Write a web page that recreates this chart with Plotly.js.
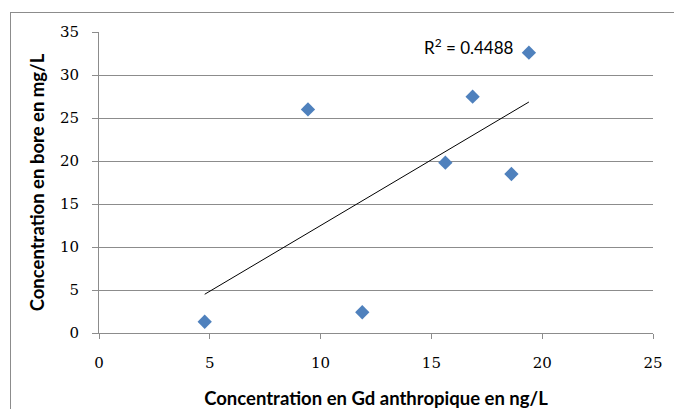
<!DOCTYPE html>
<html><head><meta charset="utf-8">
<script src="https://cdn.plot.ly/plotly-3.0.1.min.js"></script>
<style>
body{margin:0;background:#fff;}
#wrap{position:relative;width:674px;height:409px;overflow:hidden;}
#chart{width:674px;height:409px;}
#frame{position:absolute;left:10px;top:12px;width:700px;height:440px;border-left:1px solid #8c8c8c;border-top:1px solid #8c8c8c;pointer-events:none;}
</style></head>
<body><div id="wrap"><div id="chart"></div><div id="frame"></div></div>
<script>
const gdAnthropique = [4.77, 9.43, 11.88, 15.63, 16.86, 18.61, 19.40];
const bore = [1.31, 26.0, 2.41, 19.8, 27.48, 18.49, 32.6];
const xTickVals = [0, 5, 10, 15, 20, 25];
const yTickVals = [0, 5, 10, 15, 20, 25, 30, 35];
const xTitle = 'Concentration en Gd anthropique en ng/L';
const yTitle = 'Concentration en bore en mg/L';
const r2Label = 'R<sup>2</sup> = 0.4488';

// linear least-squares trendline
const n = gdAnthropique.length;
const mx = gdAnthropique.reduce((a,b)=>a+b,0)/n;
const my = bore.reduce((a,b)=>a+b,0)/n;
let sxx=0, sxy=0;
for (let i=0;i<n;i++){const dx=gdAnthropique[i]-mx, dy=bore[i]-my; sxx+=dx*dx; sxy+=dx*dy;}
const slope = sxy/sxx, intercept = my - slope*mx;
const xmin = Math.min(...gdAnthropique), xmax = Math.max(...gdAnthropique);
const trendX = [xmin, xmax];
const trendY = trendX.map(x => intercept + slope*x);

const tickFont = {family:'"DejaVu Serif", serif', size:15, color:'#000'};
const titleFont = {family:'Lato, sans-serif', size:18.5, color:'#000', weight:'bold'};

const data = [
  {x: gdAnthropique, y: bore, type:'scatter', mode:'markers',
   marker:{symbol:'diamond', size:11, color:'#4F81BD'}, hoverinfo:'x+y'},
  {x: trendX, y: trendY, type:'scatter', mode:'lines',
   line:{color:'#000', width:1}, hoverinfo:'skip'}
];

const layout = {
  width:674, height:409,
  margin:{l:99, r:21, t:32, b:76},
  paper_bgcolor:'#fff', plot_bgcolor:'#fff',
  showlegend:false,
  xaxis:{range:[0,25], tickvals:xTickVals, ticktext:xTickVals.map(String),
    showgrid:false, zeroline:false, showline:true, linecolor:'#8c8c8c', linewidth:1,
    ticks:'outside', ticklen:5, tickcolor:'#8c8c8c', tickfont:tickFont, ticklabelstandoff:11,
    title:{text:xTitle, font:titleFont, standoff:24}, automargin:false, fixedrange:true},
  yaxis:{range:[0,35], tickvals:yTickVals, ticktext:yTickVals.map(String),
    showgrid:true, gridcolor:'#8c8c8c', gridwidth:1, zeroline:false, showline:true, linecolor:'#8c8c8c', linewidth:1,
    ticks:'outside', ticklen:6, tickcolor:'#8c8c8c', tickfont:tickFont, ticklabelstandoff:10,
    title:{text:yTitle, font:titleFont, standoff:10}, automargin:false, fixedrange:true},
  annotations:[{xref:'x', yref:'y', x:16.7, y:33.3, text:r2Label,
    showarrow:false, font:{family:'Lato, sans-serif', size:17, color:'#000'}, xanchor:'center', yanchor:'middle'}]
};
Plotly.newPlot('chart', data, layout, {displayModeBar:false, staticPlot:true});
</script></body></html>
